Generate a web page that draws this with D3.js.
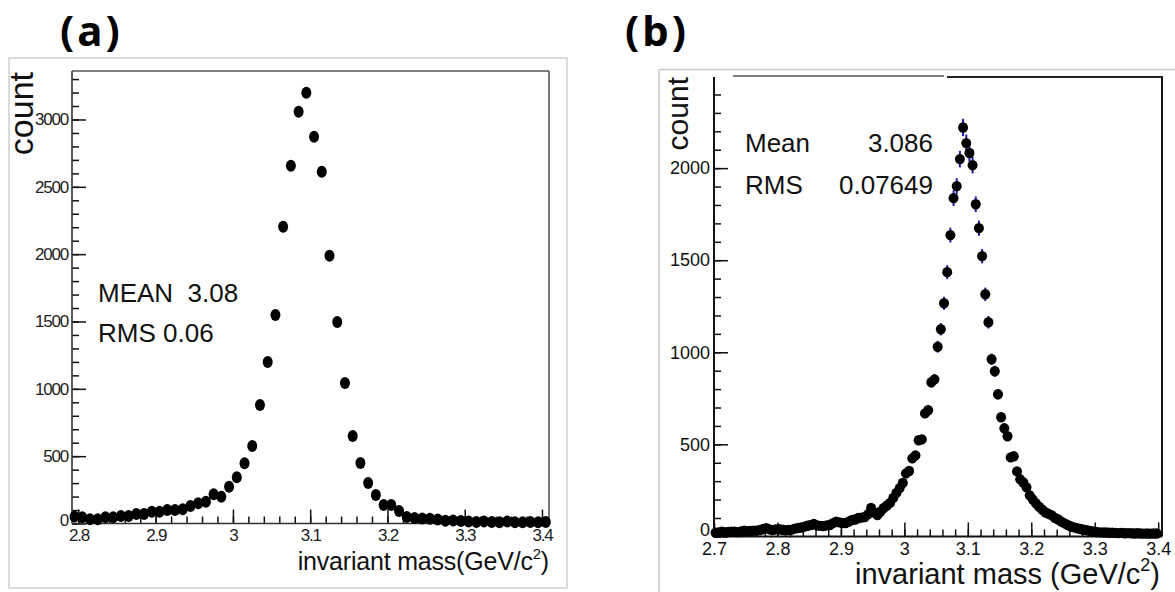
<!DOCTYPE html>
<html>
<head>
<meta charset="utf-8">
<script src="https://cdn.jsdelivr.net/npm/d3@7/dist/d3.min.js"></script>
<style>
  body { margin: 0; background: #fff; }
  text { font-family: "Liberation Sans", Arial, Helvetica, sans-serif; }
</style>
</head>
<body>
<div id="chart"></div>
<script>
// ---- panel (a): histogram, 0.01 GeV bins, first bin centre 2.795
var binStartA = 2.795, binWidthA = 0.01;
var countsA = [51, 46, 31, 31, 46, 46, 56, 56, 71, 71, 88, 88, 100, 100, 106, 130, 150, 162, 217, 199,
  273, 343, 447, 576, 880, 1200, 1549, 2203, 2656, 3057, 3198, 2872, 2612, 1988, 1497, 1044, 650, 450, 301, 212,
  137, 137, 93, 48, 40, 38, 35, 30, 20, 22, 18, 15, 12, 15, 12, 10, 14, 10, 10, 12, 10, 12];
var xTicksA = [2.8, 2.9, 3.0, 3.1, 3.2, 3.3, 3.4];
var yTicksA = [0, 500, 1000, 1500, 2000, 2500, 3000];
var statsA = ["MEAN  3.08", "RMS 0.06"];

// ---- panel (b): histogram, 0.005 GeV bins, first bin centre 2.7025
var binStartB = 2.7025, binWidthB = 0.005;
var countsB = [20, 22, 26, 22, 24, 26, 26, 23, 27, 31,
  28, 30, 31, 31, 35, 40, 44, 38, 34, 38,
  39, 36, 33, 35, 37, 42, 46, 48, 53, 58,
  62, 67, 60, 57, 56, 60, 62, 72, 80, 76,
  72, 73, 80, 89, 92, 100, 102, 105, 120, 154,
  130, 116, 135, 154, 168, 182, 209, 236, 262, 290,
  342, 355, 424, 440, 522, 527, 668, 685, 837, 853,
  1030, 1125, 1266, 1435, 1636, 1837, 1902, 2049, 2221, 2136,
  2082, 2016, 1804, 1674, 1522, 1315, 1163, 962, 897, 772,
  647, 587, 544, 429, 435, 353, 310, 293, 266, 223,
  200, 179, 160, 145, 130, 122, 114, 100, 92, 80,
  71, 62, 54, 49, 44, 40, 36, 33, 30, 27,
  24, 22, 22, 21, 20, 20, 19, 18, 19, 17,
  18, 17, 16, 17, 16, 15, 16, 15, 16, 16];
var xTicksB = [2.7, 2.8, 2.9, 3.0, 3.1, 3.2, 3.3, 3.4];
var yTicksB = [0, 500, 1000, 1500, 2000];
var statNamesB = ["Mean", "RMS"];
var statValuesB = ["3.086", "0.07649"];

var svg = d3.select("#chart").append("svg")
  .attr("width", 1175)
  .attr("height", 592);

var fmtX = d3.format("~g");
var fmtY = d3.format("d");

function drawPanel(p) {
  var x = d3.scaleLinear().domain(p.xDomain).range([p.left, p.right]);
  var y = d3.scaleLinear().domain(p.yDomain).range([p.bottom, p.top]);

  var xMinor = d3.range(Math.round(p.xTicks[0] * 50), Math.round(p.xTicks[p.xTicks.length - 1] * 50) + 1)
    .map(function (k) { return k / 50; });
  var yMinor = d3.range(0, p.yDomain[1], 100);

  // minor ticks
  svg.append("g")
    .attr("transform", "translate(0," + p.bottom + ")")
    .call(d3.axisBottom(x).tickValues(xMinor).tickSize(-p.minorLen).tickFormat(""))
    .call(function (g) { g.select(".domain").remove(); });
  svg.append("g")
    .attr("transform", "translate(" + p.left + ",0)")
    .call(d3.axisLeft(y).tickValues(yMinor).tickSize(-p.minorLen).tickFormat(""))
    .call(function (g) { g.select(".domain").remove(); });

  // major ticks + labels
  var gx = svg.append("g")
    .attr("transform", "translate(0," + p.bottom + ")")
    .call(d3.axisBottom(x).tickValues(p.xTicks).tickSize(-p.majorLen).tickPadding(p.xPad).tickFormat(fmtX));
  var gy = svg.append("g")
    .attr("transform", "translate(" + p.left + ",0)")
    .call(d3.axisLeft(y).tickValues(p.yTicks).tickSize(-p.majorLen).tickPadding(p.yPad).tickFormat(fmtY));
  [gx, gy].forEach(function (g) {
    g.select(".domain").remove();
    g.attr("font-family", null).attr("font-size", null);
    g.selectAll("text")
      .style("font-size", p.tickFont + "px")
      .style("letter-spacing", p.tickSpacing + "px")
      .attr("fill", p.tickColor);
  });
  // the "0" sits a little above the corner so it clears the first x label
  gy.selectAll(".tick text").filter(function (d) { return d === 0; })
    .attr("dy", p.zeroDy);
  svg.selectAll(".tick line").attr("stroke", p.axisColor).attr("stroke-width", 1.5);

  // frame
  svg.append("line").attr("x1", p.left).attr("x2", p.left).attr("y1", p.top).attr("y2", p.bottom)
    .attr("stroke", p.axisColor).attr("stroke-width", p.axisWidth);
  svg.append("line").attr("x1", p.left).attr("x2", p.right).attr("y1", p.bottom).attr("y2", p.bottom)
    .attr("stroke", p.axisColor).attr("stroke-width", p.axisWidth);
  svg.append("line").attr("x1", p.right).attr("x2", p.right).attr("y1", p.top).attr("y2", p.bottom)
    .attr("stroke", p.frameColor).attr("stroke-width", p.axisWidth);

  // points
  var pts = p.counts.map(function (c, i) {
    return { m: p.binStart + i * p.binWidth, n: c };
  });
  if (p.errColor) {
    svg.append("g").selectAll("line")
      .data(pts)
      .enter().append("line")
      .attr("x1", function (d) { return x(d.m); })
      .attr("x2", function (d) { return x(d.m); })
      .attr("y1", function (d) { return y(d.n + Math.sqrt(d.n)); })
      .attr("y2", function (d) { return y(Math.max(0, d.n - Math.sqrt(d.n))); })
      .attr("stroke", p.errColor)
      .attr("stroke-width", 2);
  }
  svg.append("g").selectAll("ellipse")
    .data(pts)
    .enter().append("ellipse")
    .attr("cx", function (d) { return x(d.m); })
    .attr("cy", function (d) { return y(d.n); })
    .attr("rx", p.rx)
    .attr("ry", p.ry)
    .attr("fill", "#000");

  return { x: x, y: y };
}

// ---------- panel (a) ----------
svg.append("rect").attr("x", 9).attr("y", 58).attr("width", 558).attr("height", 530)
  .attr("fill", "none").attr("stroke", "#cfcfcf").attr("stroke-width", 1.5);
svg.append("line").attr("x1", 72).attr("x2", 549).attr("y1", 71).attr("y2", 71)
  .attr("stroke", "#555").attr("stroke-width", 1.5);

drawPanel({
  xDomain: [2.7917, 3.4091], yDomain: [0, 3360],
  left: 72, right: 549, top: 71, bottom: 523.5,
  xTicks: xTicksA, yTicks: yTicksA,
  counts: countsA, binStart: binStartA, binWidth: binWidthA,
  majorLen: 14, minorLen: 7, xPad: 5, yPad: 4, zeroDy: "0.1em",
  tickFont: 17, tickSpacing: -1.2, tickColor: "#222",
  axisColor: "#333", frameColor: "#555", axisWidth: 1.6,
  rx: 5, ry: 6, errColor: null
});

svg.append("text")
  .attr("transform", "translate(33,72) rotate(-90)")
  .attr("text-anchor", "end")
  .style("font-size", "34px")
  .attr("fill", "#111")
  .text("count");

var xlabA = svg.append("text")
  .attr("x", 549).attr("y", 570)
  .attr("text-anchor", "end")
  .style("font-size", "25px")
  .style("letter-spacing", "-0.2px")
  .attr("fill", "#111");
xlabA.append("tspan").text("invariant mass(GeV/c");
xlabA.append("tspan").attr("dy", -11).style("font-size", "15px").text("2");
xlabA.append("tspan").attr("dy", 11).text(")");

svg.selectAll(".statA")
  .data(statsA)
  .enter().append("text")
  .attr("class", "statA")
  .attr("x", 98)
  .attr("y", function (d, i) { return 302 + i * 40; })
  .style("font-size", "26px")
  .style("white-space", "pre")
  .attr("fill", "#111")
  .text(function (d) { return d; });

svg.append("text")
  .attr("x", 60).attr("y", 46)
  .style("font-family", "'Noto Sans', sans-serif")
  .style("font-weight", "bold")
  .style("font-size", "42px")
  .style("letter-spacing", "3px")
  .text("(a)");

// ---------- panel (b) ----------
svg.append("line").attr("x1", 659).attr("x2", 1175).attr("y1", 69.5).attr("y2", 69.5)
  .attr("stroke", "#c8c8c8").attr("stroke-width", 1.5);
svg.append("line").attr("x1", 659).attr("x2", 659).attr("y1", 69.5).attr("y2", 592)
  .attr("stroke", "#c8c8c8").attr("stroke-width", 1.5);
svg.append("line").attr("x1", 733).attr("x2", 944).attr("y1", 76).attr("y2", 76)
  .attr("stroke", "#555").attr("stroke-width", 1.5);
svg.append("line").attr("x1", 947).attr("x2", 1163).attr("y1", 77).attr("y2", 77)
  .attr("stroke", "#222").attr("stroke-width", 2);

drawPanel({
  xDomain: [2.7, 3.406], yDomain: [0, 2495],
  left: 714, right: 1162, top: 77, bottom: 536.4,
  xTicks: xTicksB, yTicks: yTicksB,
  counts: countsB, binStart: binStartB, binWidth: binWidthB,
  majorLen: 14, minorLen: 7, xPad: 6, yPad: 4, zeroDy: "-0.05em",
  tickFont: 18, tickSpacing: 0, tickColor: "#111",
  axisColor: "#111", frameColor: "#111", axisWidth: 2,
  rx: 5, ry: 5.2, errColor: "#1c1ca8"
});

svg.append("text")
  .attr("transform", "translate(688,77) rotate(-90)")
  .attr("text-anchor", "end")
  .style("font-size", "30px")
  .attr("fill", "#111")
  .text("count");

var xlabB = svg.append("text")
  .attr("x", 1160).attr("y", 584)
  .attr("text-anchor", "end")
  .style("font-size", "29px")
  .attr("fill", "#111");
xlabB.append("tspan").text("invariant mass (GeV/c");
xlabB.append("tspan").attr("dy", -13).style("font-size", "18px").text("2");
xlabB.append("tspan").attr("dy", 13).text(")");

svg.selectAll(".statNameB")
  .data(statNamesB)
  .enter().append("text")
  .attr("class", "statNameB")
  .attr("x", 745)
  .attr("y", function (d, i) { return 152 + i * 42; })
  .style("font-size", "26px")
  .attr("fill", "#111")
  .text(function (d) { return d; });
svg.selectAll(".statValB")
  .data(statValuesB)
  .enter().append("text")
  .attr("class", "statValB")
  .attr("x", 933)
  .attr("y", function (d, i) { return 152 + i * 42; })
  .attr("text-anchor", "end")
  .style("font-size", "26px")
  .attr("fill", "#111")
  .text(function (d) { return d; });

svg.append("text")
  .attr("x", 625).attr("y", 46)
  .style("font-family", "'Noto Sans', sans-serif")
  .style("font-weight", "bold")
  .style("font-size", "42px")
  .style("letter-spacing", "3px")
  .text("(b)");
</script>
</body>
</html>
